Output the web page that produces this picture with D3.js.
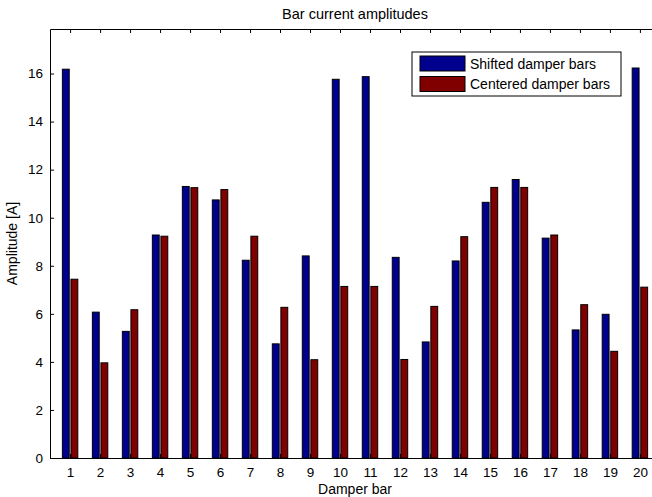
<!DOCTYPE html>
<html>
<head>
<meta charset="utf-8">
<script src="https://cdn.jsdelivr.net/npm/d3@7"></script>
<style>
  body { margin: 0; background: #fff; }
  text { font-family: "Liberation Sans", Arial, sans-serif; fill: #000; }
</style>
</head>
<body>
<div id="chart"></div>
<script>
// Data
const bars = d3.range(1, 21);
const shifted = [16.18, 6.07, 5.27, 9.28, 11.30, 10.74, 8.23, 4.75, 8.41, 15.76,
                 15.87, 8.35, 4.83, 8.20, 10.64, 11.59, 9.15, 5.33, 5.98, 16.23];
const centered = [7.44, 3.96, 6.17, 9.23, 11.25, 11.17, 9.23, 6.27, 4.09, 7.14,
                  7.14, 4.10, 6.31, 9.21, 11.26, 11.26, 9.28, 6.38, 4.44, 7.11];
const yTicks = [0, 2, 4, 6, 8, 10, 12, 14, 16];
const seriesNames = ["Shifted damper bars", "Centered damper bars"];
const seriesColors = ["#00008f", "#800000"];

const W = 652, H = 497;
const margin = {top: 29, right: -8, bottom: 39, left: 50};
const width = W - margin.left - margin.right,
      height = H - margin.top - margin.bottom;

const svg = d3.select("#chart")
    .append("svg")
    .attr("width", W)
    .attr("height", H);

const g = svg.append("g")
    .attr("transform", `translate(${margin.left},${margin.top})`);

// Scales (MATLAB-like limits: ylim = 1.1 * max)
const x = d3.scaleLinear()
    .domain([0.33, 20.67])
    .range([0, width]);
const y = d3.scaleLinear()
    .domain([0, 1.1 * d3.max(shifted.concat(centered))])
    .range([height, 0]);

// Grouped bars: width 0.229, offset +-0.143 (units of x)
const bw = 0.229, off = 0.143;
const series = [shifted, centered];
series.forEach((vals, si) => {
    g.selectAll(".bar" + si)
        .data(vals)
        .enter().append("rect")
        .attr("class", "bar" + si)
        .attr("x", (d, i) => x(bars[i] + (si === 0 ? -off : off) - bw / 2))
        .attr("width", x(bw) - x(0))
        .attr("y", d => y(d))
        .attr("height", d => y(0) - y(d))
        .attr("fill", seriesColors[si])
        .attr("stroke", "#000")
        .attr("stroke-width", 1);
});

// Axes with inward ticks
const tickLen = 4;
const xb = g.append("g")
    .attr("transform", `translate(0,${height})`)
    .call(d3.axisBottom(x).tickValues(bars).tickSizeInner(-tickLen).tickSizeOuter(0).tickPadding(9));
const xt = g.append("g")
    .call(d3.axisTop(x).tickValues(bars).tickSizeInner(-tickLen).tickSizeOuter(0).tickFormat(""));
const yl = g.append("g")
    .call(d3.axisLeft(y).tickValues(yTicks).tickSizeInner(-tickLen).tickSizeOuter(0).tickPadding(7));

[xb, xt, yl].forEach(a => {
    a.selectAll("text").style("font-size", "13.5px").attr("font-family", null);
    a.select(".domain").attr("stroke", "#000");
});

// Title and axis labels
svg.append("text")
    .attr("x", margin.left + width / 2)
    .attr("y", 19)
    .attr("text-anchor", "middle")
    .style("font-size", "14.5px")
    .text("Bar current amplitudes");

svg.append("text")
    .attr("x", margin.left + width / 2)
    .attr("y", 494)
    .attr("text-anchor", "middle")
    .style("font-size", "14px")
    .text("Damper bar");

svg.append("text")
    .attr("transform", `translate(17,${margin.top + height / 2}) rotate(-90)`)
    .attr("text-anchor", "middle")
    .style("font-size", "14px")
    .text("Amplitude [A]");

// Legend
const lg = svg.append("g").attr("transform", "translate(412,52)");
lg.append("rect")
    .attr("width", 209)
    .attr("height", 44)
    .attr("fill", "#fff")
    .attr("stroke", "#000");
seriesNames.forEach((name, i) => {
    lg.append("rect")
        .attr("x", 8)
        .attr("y", 4 + i * 20.5)
        .attr("width", 45)
        .attr("height", 15)
        .attr("fill", seriesColors[i])
        .attr("stroke", "#000");
    lg.append("text")
        .attr("x", 58)
        .attr("y", 16.5 + i * 20.5)
        .style("font-size", "14px")
        .text(name);
});
</script>
</body>
</html>
